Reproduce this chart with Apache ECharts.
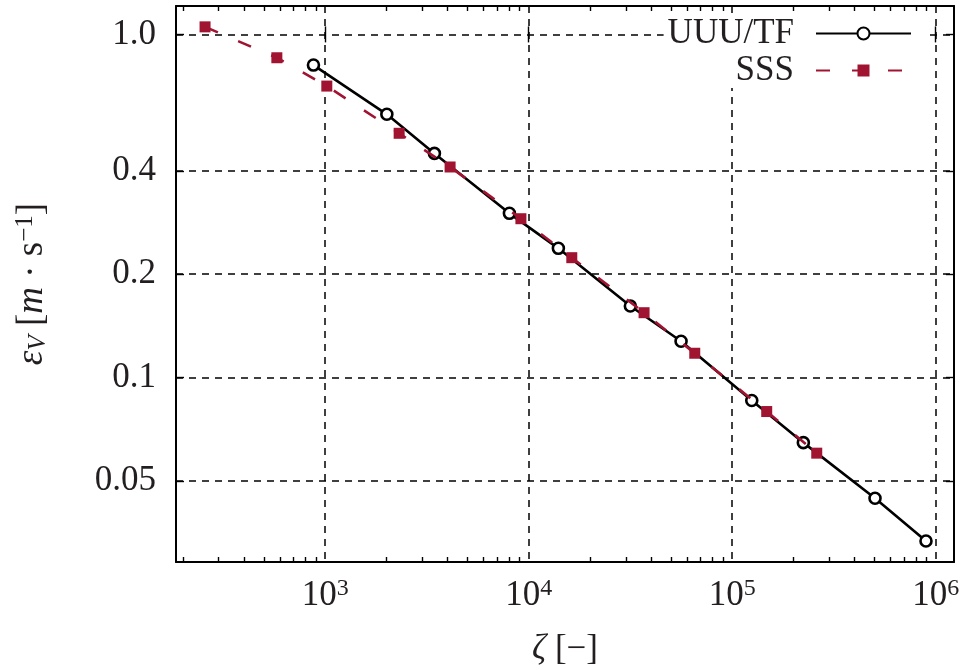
<!DOCTYPE html>
<html><head><meta charset="utf-8">
<script src="https://cdn.jsdelivr.net/npm/echarts@6/dist/echarts.min.js"></script>
<style>html,body{margin:0;padding:0;background:#fff}#c{width:960px;height:670px}</style>
</head><body><div id="c"></div>
<script>
// ---- data ----
const seriesNames = ['UUU/TF', 'SSS'];
const uuuZeta = [876, 2010, 3443, 8042, 13996, 31600, 56080, 124800, 223700, 503300, 896000];
const uuuEps  = [0.814, 0.585, 0.450, 0.301, 0.238, 0.1616, 0.1276, 0.0857, 0.0646, 0.0445, 0.0334];
const sssZeta = [257, 579, 1019, 2310, 4111, 9159, 16290, 36900, 65480, 147800, 260300];
const sssEps  = [1.052, 0.855, 0.707, 0.515, 0.4108, 0.2903, 0.2235, 0.1545, 0.1177, 0.0796, 0.0602];
const xMajorTicks = [1e3, 1e4, 1e5, 1e6];
const xMajorExp = ['3', '4', '5', '6'];
const yTicks = [0.05, 0.1, 0.2, 0.4, 1.0];
const yTickLabels = ['0.05', '0.1', '0.2', '0.4', '1.0'];
const xRange = [185, 1.23e6];
const yRange = [0.029, 1.21];

// ---- helpers ----
const L = Math.log10;
const FONT = 'Liberation Serif';
const TXT = '#231f20';
const RED = '#a11431';
const FS = 35;
const xMinor = [];
for (let d = 100; d <= 1e6; d *= 10) {
  for (let m = 2; m <= 9; m++) { const v = d * m; if (v >= xRange[0] && v <= xRange[1]) xMinor.push(L(v)); }
}
const xMajor = xMajorTicks.map(L);
const yMajor = yTicks.map(L);
const near = (arr, v) => arr.findIndex(t => Math.abs(t - v) < 1e-6);

const baseX = {
  type: 'value', min: L(xRange[0]), max: L(xRange[1]), gridIndex: 0,
  axisLine: { show: false }, axisTick: { show: false }, axisLabel: { show: false }, splitLine: { show: false }
};
const baseY = {
  type: 'value', min: L(yRange[0]), max: L(yRange[1]), gridIndex: 0,
  axisLine: { show: false }, axisTick: { show: false }, axisLabel: { show: false }, splitLine: { show: false }
};
const axisLine = { show: true, onZero: false, lineStyle: { color: '#000', width: 2 } };
const grid = { show: true, lineStyle: { color: '#000', width: 1.5, type: [7, 6] } };
const tickStyle = { color: '#000', width: 1.4 };

const option = {
  animation: false,
  backgroundColor: '#fff',
  grid: { left: 176, right: 6, top: 6, bottom: 108, containLabel: false, outerBoundsMode: 'none' },
  legend: {
    data: seriesNames, orient: 'vertical', align: 'right', right: 30, top: 16,
    padding: [0, 18, 0, 4], itemGap: 2, itemWidth: 95, itemHeight: 15,
    backgroundColor: '#fff',
    textStyle: { fontFamily: FONT, fontSize: FS, color: TXT, padding: [0, 17, 0, 0] }
  },
  xAxis: [
    Object.assign({}, baseX, {
      position: 'bottom', axisLine,
      axisTick: { show: true, inside: true, length: 5, customValues: xMinor, lineStyle: tickStyle },
      axisLabel: {
        show: true, customValues: xMajor, margin: 15,
        formatter: v => '{b|10}{s|' + xMajorExp[near(xMajor, v)] + '}',
        rich: {
          b: { fontFamily: FONT, fontSize: FS, color: TXT, lineHeight: 37 },
          s: { fontFamily: FONT, fontSize: 24, color: TXT, lineHeight: 24, verticalAlign: 'top' }
        }
      },
      name: '{i|ζ} [−]', nameLocation: 'middle', nameGap: 70,
      nameTextStyle: { fontFamily: FONT, fontSize: FS, color: TXT,
        rich: { i: { fontFamily: FONT, fontSize: FS, color: TXT, fontStyle: 'italic' } } }
    }),
    Object.assign({}, baseX, {
      position: 'top', axisLine,
      axisTick: { show: true, inside: true, length: 5, customValues: xMinor, lineStyle: tickStyle }
    }),
    Object.assign({}, baseX, {
      position: 'bottom',
      axisTick: { show: true, inside: true, length: 8, customValues: xMajor, lineStyle: tickStyle },
      splitLine: grid
    }),
    Object.assign({}, baseX, {
      position: 'top',
      axisTick: { show: true, inside: true, length: 8, customValues: xMajor, lineStyle: tickStyle }
    })
  ],
  yAxis: [
    Object.assign({}, baseY, {
      position: 'left', axisLine,
      axisTick: { show: true, inside: true, length: 8, customValues: yMajor, lineStyle: tickStyle },
      axisLabel: {
        show: true, customValues: yMajor, margin: 20,
        fontFamily: FONT, fontSize: FS, color: TXT,
        formatter: v => yTickLabels[near(yMajor, v)]
      },
      splitLine: grid,
      name: '{i|ε}{sub|V} [{i|m} · s{sup|−1}]', nameLocation: 'middle', nameGap: 125,
      nameTextStyle: { fontFamily: FONT, fontSize: 37, color: TXT,
        rich: {
          i: { fontFamily: FONT, fontSize: 37, color: TXT, fontStyle: 'italic', lineHeight: 38 },
          sub: { fontFamily: FONT, fontSize: 25, color: TXT, fontStyle: 'italic', lineHeight: 25, verticalAlign: 'bottom' },
          sup: { fontFamily: FONT, fontSize: 25, color: TXT, lineHeight: 25, verticalAlign: 'top' }
        } }
    }),
    Object.assign({}, baseY, {
      position: 'right', axisLine,
      axisTick: { show: true, inside: true, length: 8, customValues: yMajor, lineStyle: tickStyle }
    })
  ],
  series: [
    {
      name: seriesNames[0], type: 'line', xAxisIndex: 0, yAxisIndex: 0,
      data: uuuZeta.map((x, i) => [L(x), L(uuuEps[i])]),
      symbol: 'circle', symbolSize: 11, showSymbol: true,
      lineStyle: { color: '#000', width: 2.6 },
      itemStyle: { color: '#fff', borderColor: '#000', borderWidth: 2.6 },
      emphasis: { disabled: true }, z: 3
    },
    {
      name: seriesNames[1], type: 'line', xAxisIndex: 0, yAxisIndex: 0,
      data: sssZeta.map((x, i) => [L(x), L(sssEps[i])]),
      symbol: 'rect', symbolSize: 11, showSymbol: true,
      lineStyle: { color: RED, width: 2.6, type: [14, 22] },
      itemStyle: { color: RED, borderWidth: 0 },
      emphasis: { disabled: true }, z: 4
    }
  ]
};
const chart = echarts.init(document.getElementById('c'), null, { renderer: 'canvas' });
chart.setOption(option);
</script>
</body></html>
